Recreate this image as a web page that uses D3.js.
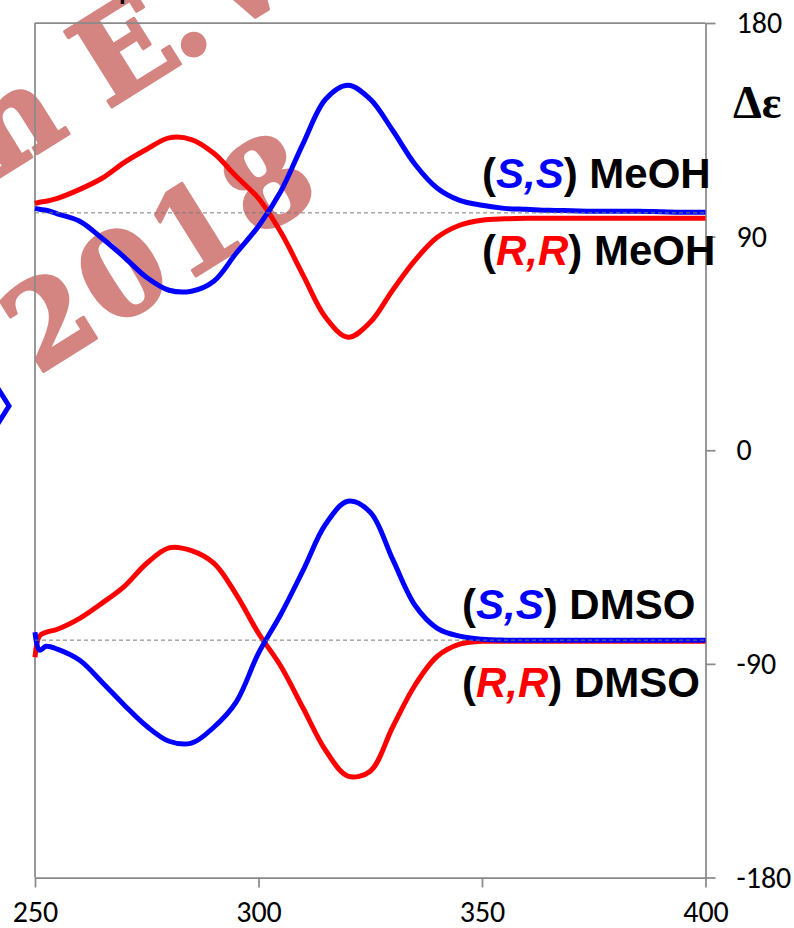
<!DOCTYPE html>
<html>
<head>
<meta charset="utf-8">
<script src="https://cdn.jsdelivr.net/npm/d3@7"></script>
<style>
  html, body { margin: 0; padding: 0; background: #ffffff; }
  svg { display: block; }
</style>
</head>
<body>
<svg id="chart" width="794" height="928"></svg>
<script>
// Wavelength grid (nm) shared by all four CD spectra
const wavelength = [250, 251, 252.5, 255,
  260, 265, 270, 275, 280, 285, 290, 295, 300, 305,
  310, 315, 320, 325, 330, 335, 340, 345, 350, 355,
  360, 365, 370, 375, 380, 385, 390, 395, 400];

// Δε values of each enantiomer, before the vertical offset of its solvent panel
const ssMeOH = [1.9, 1.5, 1.1, -0.4,
  -3.5, -10.7, -18.7, -27.2, -32.6, -33.0, -28.8, -17.0, -5.6, 9.1,
  29.3, 47.9, 53.8, 47.9, 34.8, 20.5, 10.4, 5.3, 3.2, 1.9,
  1.5, 1.1, 0.9, 0.7, 0.7, 0.7, 0.5, 0.3, 0.3];
const rrMeOH = [4.0, 4.5, 4.9, 6.1,
  9.9, 14.6, 21.3, 26.8, 31.6, 30.9, 25.1, 15.4, 6.1, -8.2,
  -26.3, -44.0, -52.4, -46.1, -32.6, -20.0, -10.3, -5.2, -3.1, -2.5,
  -2.3, -2.3, -2.3, -2.3, -2.3, -2.3, -2.3, -2.3, -2.3];
const ssDMSO = [3.3, -4.2, -2.6, -3.8,
  -8.5, -17.7, -27.4, -36.3, -42.6, -43.4, -36.7, -26.1, -5.5, 10.9,
  29.5, 48.8, 58.5, 53.9, 34.1, 14.7, 5.0, 1.7, 0.4, 0.0,
  0.0, 0.0, 0.0, 0.0, 0.0, 0.0, 0.0, 0.0, 0.0];
const rrDMSO = [-7.2, 1.7, 3.3, 4.6,
  9.2, 15.6, 22.7, 32.4, 38.9, 37.7, 32.4, 19.3, 2.9, -11.0,
  -28.7, -46.4, -57.3, -55.2, -36.7, -19.0, -6.8, -1.7, -0.5, -0.5,
  -0.5, -0.5, -0.5, -0.5, -0.5, -0.5, -0.5, -0.5, -0.5];

// Vertical shift of each solvent panel
const meohOffset = 100;
const dmsoOffset = -80;

const xTicks = [250, 300, 350, 400];
const yTicks = [-180, -90, 0, 90, 180];

const svg = d3.select("#chart");
const x = d3.scaleLinear().domain([250, 400]).range([35, 705.5]);
const y = d3.scaleLinear().domain([-180, 180]).range([877.5, 23]);

const axisGrey = "#8a8a8a";

// Watermark lettering, under everything else (stroked in its own colour for a heavier face)
const wmColor = "#d48581";
const wm = svg.append("g")
  .attr("transform", "translate(107,110) rotate(-32)")
  .attr("fill", wmColor)
  .attr("stroke", wmColor)
  .attr("stroke-width", 3)
  .attr("stroke-linejoin", "round")
  .attr("font-family", "'DejaVu Serif','Liberation Serif',serif")
  .attr("font-weight", "bold");
wm.append("text").attr("x", -42).attr("y", 0).attr("font-size", 122)
  .attr("text-anchor", "end").text("n");
wm.append("text").attr("x", 0).attr("y", 0).attr("font-size", 122)
  .attr("letter-spacing", -6).text("E.");
wm.append("text").attr("x", 142).attr("y", 0).attr("font-size", 122).text("W");
wm.append("text").attr("x", -200).attr("y", 188).attr("font-size", 116)
  .attr("letter-spacing", 5).text("2018");

// Fragments of neighbouring artwork at the page edge
svg.append("text")
  .attr("x", 119).attr("y", -1)
  .attr("font-family", "'Liberation Sans',Arial,sans-serif")
  .attr("font-weight", "bold").attr("font-size", 24)
  .attr("fill", "#000").text("p");
svg.append("polyline")
  .attr("points", "-6,382 9,406 -6,430")
  .attr("fill", "none").attr("stroke", "#0000ff")
  .attr("stroke-width", 5).attr("stroke-linejoin", "miter");

// Plot-area border (top and left)
svg.append("line")
  .attr("x1", x(250)).attr("x2", x(400))
  .attr("y1", y(180)).attr("y2", y(180))
  .attr("stroke", axisGrey).attr("stroke-width", 1.75);
svg.append("line")
  .attr("x1", x(250)).attr("x2", x(250))
  .attr("y1", y(180)).attr("y2", y(-180))
  .attr("stroke", axisGrey).attr("stroke-width", 1.75);

// Right value axis
const tickFont = "Carlito, Roboto, 'Liberation Sans', sans-serif";
const yAxis = svg.append("g")
  .attr("transform", `translate(${x(400)},0)`)
  .call(d3.axisRight(y).tickValues(yTicks).tickSize(10).tickSizeOuter(0).tickPadding(21)
    .tickFormat(d => String(d)));
// Bottom wavelength axis
const xAxis = svg.append("g")
  .attr("transform", `translate(0,${y(-180)})`)
  .call(d3.axisBottom(x).tickValues(xTicks).tickSize(10).tickSizeOuter(0).tickPadding(13)
    .tickFormat(d => String(d)));
[yAxis, xAxis].forEach(g => {
  g.select(".domain").attr("stroke", axisGrey).attr("stroke-width", 1.75);
  g.selectAll(".tick line").attr("stroke", axisGrey).attr("stroke-width", 1.75);
  g.selectAll(".tick text")
    .attr("font-family", tickFont).attr("font-size", 30).attr("fill", "#000");
});

// CD spectra
const line = d3.line()
  .x(d => x(d[0]))
  .y(d => y(d[1]))
  .curve(d3.curveCatmullRom.alpha(0.5));

const series = [
  { values: rrMeOH, offset: meohOffset, color: "#ff0000" },
  { values: ssMeOH, offset: meohOffset, color: "#0000ff" },
  { values: rrDMSO, offset: dmsoOffset, color: "#ff0000" },
  { values: ssDMSO, offset: dmsoOffset, color: "#0000ff" }
];
series.forEach(s => {
  const pts = wavelength.map((w, i) => [w, s.values[i] + s.offset]);
  svg.append("path")
    .datum(pts)
    .attr("d", line)
    .attr("fill", "none")
    .attr("stroke", s.color)
    .attr("stroke-width", 5)
    .attr("stroke-linejoin", "round")
    .attr("stroke-linecap", "butt");
});

// Zero lines of each panel
[meohOffset, dmsoOffset].forEach(o => {
  svg.append("line")
    .attr("x1", x(250)).attr("x2", x(400))
    .attr("y1", y(o)).attr("y2", y(o))
    .attr("stroke", "#7a7a7a").attr("stroke-width", 1)
    .attr("stroke-dasharray", "4,3");
});

// Axis title
svg.append("text")
  .attr("x", 733).attr("y", 118)
  .attr("font-family", "'Liberation Serif','Times New Roman',serif")
  .attr("font-weight", "bold").attr("font-size", 46)
  .attr("fill", "#000").text("Δε");

// Curve labels
const labels = [
  { conf: "S,S", color: "#0000ff", solvent: "MeOH", x: 482, y: 188 },
  { conf: "R,R", color: "#ff0000", solvent: "MeOH", x: 482, y: 265 },
  { conf: "S,S", color: "#0000ff", solvent: "DMSO", x: 462, y: 619 },
  { conf: "R,R", color: "#ff0000", solvent: "DMSO", x: 462, y: 697 }
];
labels.forEach(l => {
  const t = svg.append("text")
    .attr("x", l.x).attr("y", l.y)
    .attr("font-family", "'Liberation Sans',Arial,sans-serif")
    .attr("font-weight", "bold").attr("font-size", 42)
    .attr("fill", "#000");
  t.append("tspan").text("(");
  t.append("tspan").attr("fill", l.color).attr("font-style", "italic").text(l.conf);
  t.append("tspan").text(") " + l.solvent);
});
</script>
</body>
</html>
